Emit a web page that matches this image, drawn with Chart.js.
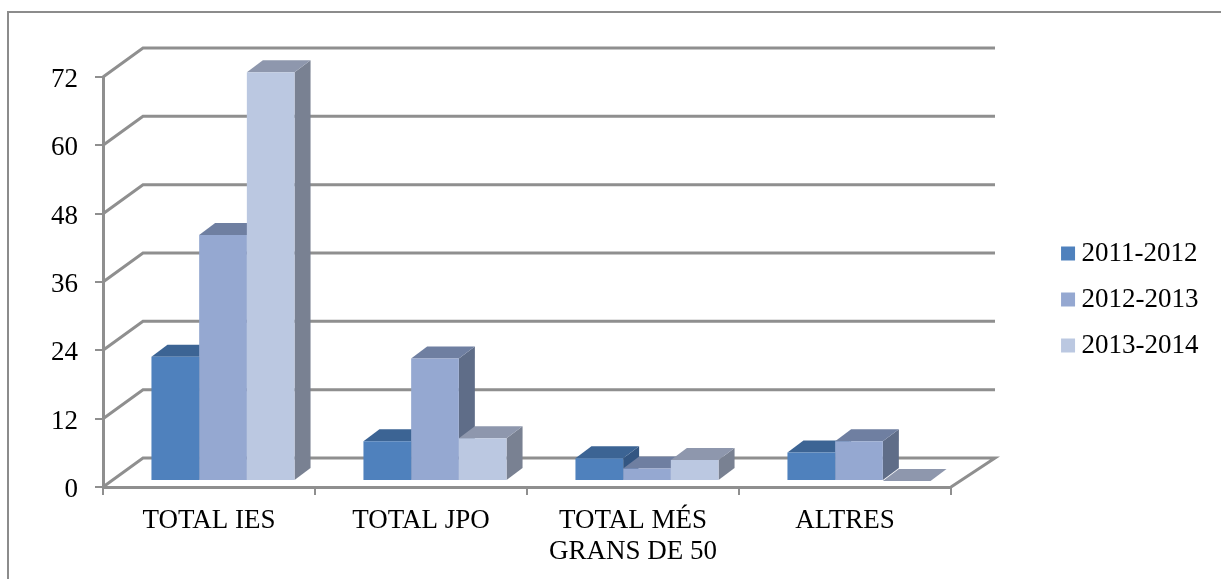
<!DOCTYPE html>
<html>
<head>
<meta charset="utf-8">
<title>Chart</title>
<script src="https://cdn.jsdelivr.net/npm/chart.js"></script>
<style>
  html, body { margin: 0; padding: 0; background: #fff; overflow: hidden; }
  #frame { position: absolute; left: 7px; top: 11px; width: 1300px; height: 700px; border: 2px solid #8c8c8c; }
  canvas { position: absolute; left: 0; top: 0; }
</style>
</head>
<body>
<div id="frame"></div>
<canvas id="chart" width="1221" height="579"></canvas>
<script>
const categories = ['TOTAL IES', 'TOTAL JPO', ['TOTAL MÉS', 'GRANS DE 50'], 'ALTRES'];
const series2011 = [21.8, 7, 4, 5];
const series2012 = [43.2, 21.5, 2.2, 7];
const series2013 = [71.8, 7.5, 3.7, 0];
const seriesNames = ['2011-2012', '2012-2013', '2013-2014'];

const frontColors = ['#4f81bd', '#95a8d1', '#bbc8e1'];
const topColors = ['#3c6494', '#6f7fa1', '#8e97ad'];
const sideColors = ['#335682', '#5f6d88', '#798192'];
const gridColor = '#8f8f8f';
const labelFont = { family: '"Liberation Serif", serif', size: 27, lineHeight: 1.15 };

// bars sit a little inside the floor, the wall is further back
const barShift = { x: 14, y: -6 };
const barDepth = { x: 16, y: -12 };
const wallDepth = { x: 40, y: -29 };
const wallExtraRight = 4;
const plotRight = 951;

function face(ctx, color, pts) {
  ctx.fillStyle = color;
  ctx.beginPath();
  pts.forEach((p, i) => i ? ctx.lineTo(p[0], p[1]) : ctx.moveTo(p[0], p[1]));
  ctx.closePath();
  ctx.fill();
}

const fake3d = {
  id: 'fake3d',
  beforeLayout(chart) {
    // legend.update only calls fit, so its width is pinned here
    if (chart.legend.fit.pinned) return;
    const fit = chart.legend.fit;
    chart.legend.fit = function () { fit.call(this); this.width = chart.width - plotRight; };
    chart.legend.fit.pinned = true;
  },
  afterLayout(chart) {
    // legend box goes further right than the layout would put it
    chart.legend.left = chart.chartArea.right + 98;
    chart.legend.top = 221;
  },
  beforeDatasetsDraw(chart) {
    const { ctx, chartArea, scales } = chart;
    ctx.save();
    ctx.strokeStyle = gridColor;
    ctx.lineWidth = 3;
    scales.y.ticks.forEach(t => {
      const y = scales.y.getPixelForValue(t.value);
      ctx.beginPath();
      ctx.moveTo(chartArea.left, y);
      ctx.lineTo(chartArea.left + wallDepth.x, y + wallDepth.y);
      ctx.lineTo(chartArea.right + wallDepth.x + wallExtraRight, y + wallDepth.y);
      if (t.value === 0) ctx.lineTo(chartArea.right, y);
      ctx.stroke();
    });
    ctx.restore();

    // stays translated until afterDatasetsDraw so the fronts line up
    ctx.save();
    ctx.translate(barShift.x, barShift.y);
    chart.data.datasets.forEach((ds, i) => {
      chart.getDatasetMeta(i).data.forEach(bar => {
        const l = bar.x - bar.width / 2, r = bar.x + bar.width / 2;
        const dx = barDepth.x, dy = barDepth.y;
        face(ctx, sideColors[i], [[r, bar.y], [r + dx, bar.y + dy], [r + dx, bar.base + dy], [r, bar.base]]);
        face(ctx, topColors[i], [[l, bar.y], [l + dx, bar.y + dy], [r + dx, bar.y + dy], [r, bar.y]]);
      });
    });
  },
  afterDatasetsDraw(chart) {
    chart.ctx.restore();
  }
};

new Chart(document.getElementById('chart'), {
  type: 'bar',
  data: {
    labels: categories,
    datasets: [series2011, series2012, series2013].map((values, i) => ({
      label: seriesNames[i],
      data: values,
      backgroundColor: frontColors[i],
      borderWidth: 0,
      categoryPercentage: 0.675,
      barPercentage: 1,
      clip: false
    }))
  },
  options: {
    responsive: false,
    animation: false,
    layout: { padding: { left: 0, top: 77, right: 0, bottom: 0 } },
    plugins: {
      title: { display: false },
      tooltip: { enabled: false },
      legend: {
        position: 'right',
        align: 'start',
        // tiny boxWidth keeps the text close, the rect point style still draws 14px
        labels: { usePointStyle: true, pointStyle: 'rect', boxWidth: 0.1, boxHeight: 14, padding: 19, color: '#000', font: labelFont }
      }
    },
    scales: {
      x: {
        grid: { drawOnChartArea: false, color: gridColor, lineWidth: 2, tickLength: 8 },
        border: { color: gridColor, width: 3 },
        ticks: { color: '#000', font: labelFont, padding: 10, maxRotation: 0, autoSkip: false },
        afterFit(scale) { scale.height = 92; }
      },
      y: {
        min: 0,
        max: 72,
        grid: { drawOnChartArea: false, color: gridColor, lineWidth: 2, tickLength: 8 },
        border: { color: gridColor, width: 3 },
        ticks: { stepSize: 12, color: '#000', font: labelFont, padding: 17, labelOffset: 3 },
        afterFit(scale) { scale.width = 103; }
      }
    }
  },
  plugins: [fake3d]
});
</script>
</body>
</html>
